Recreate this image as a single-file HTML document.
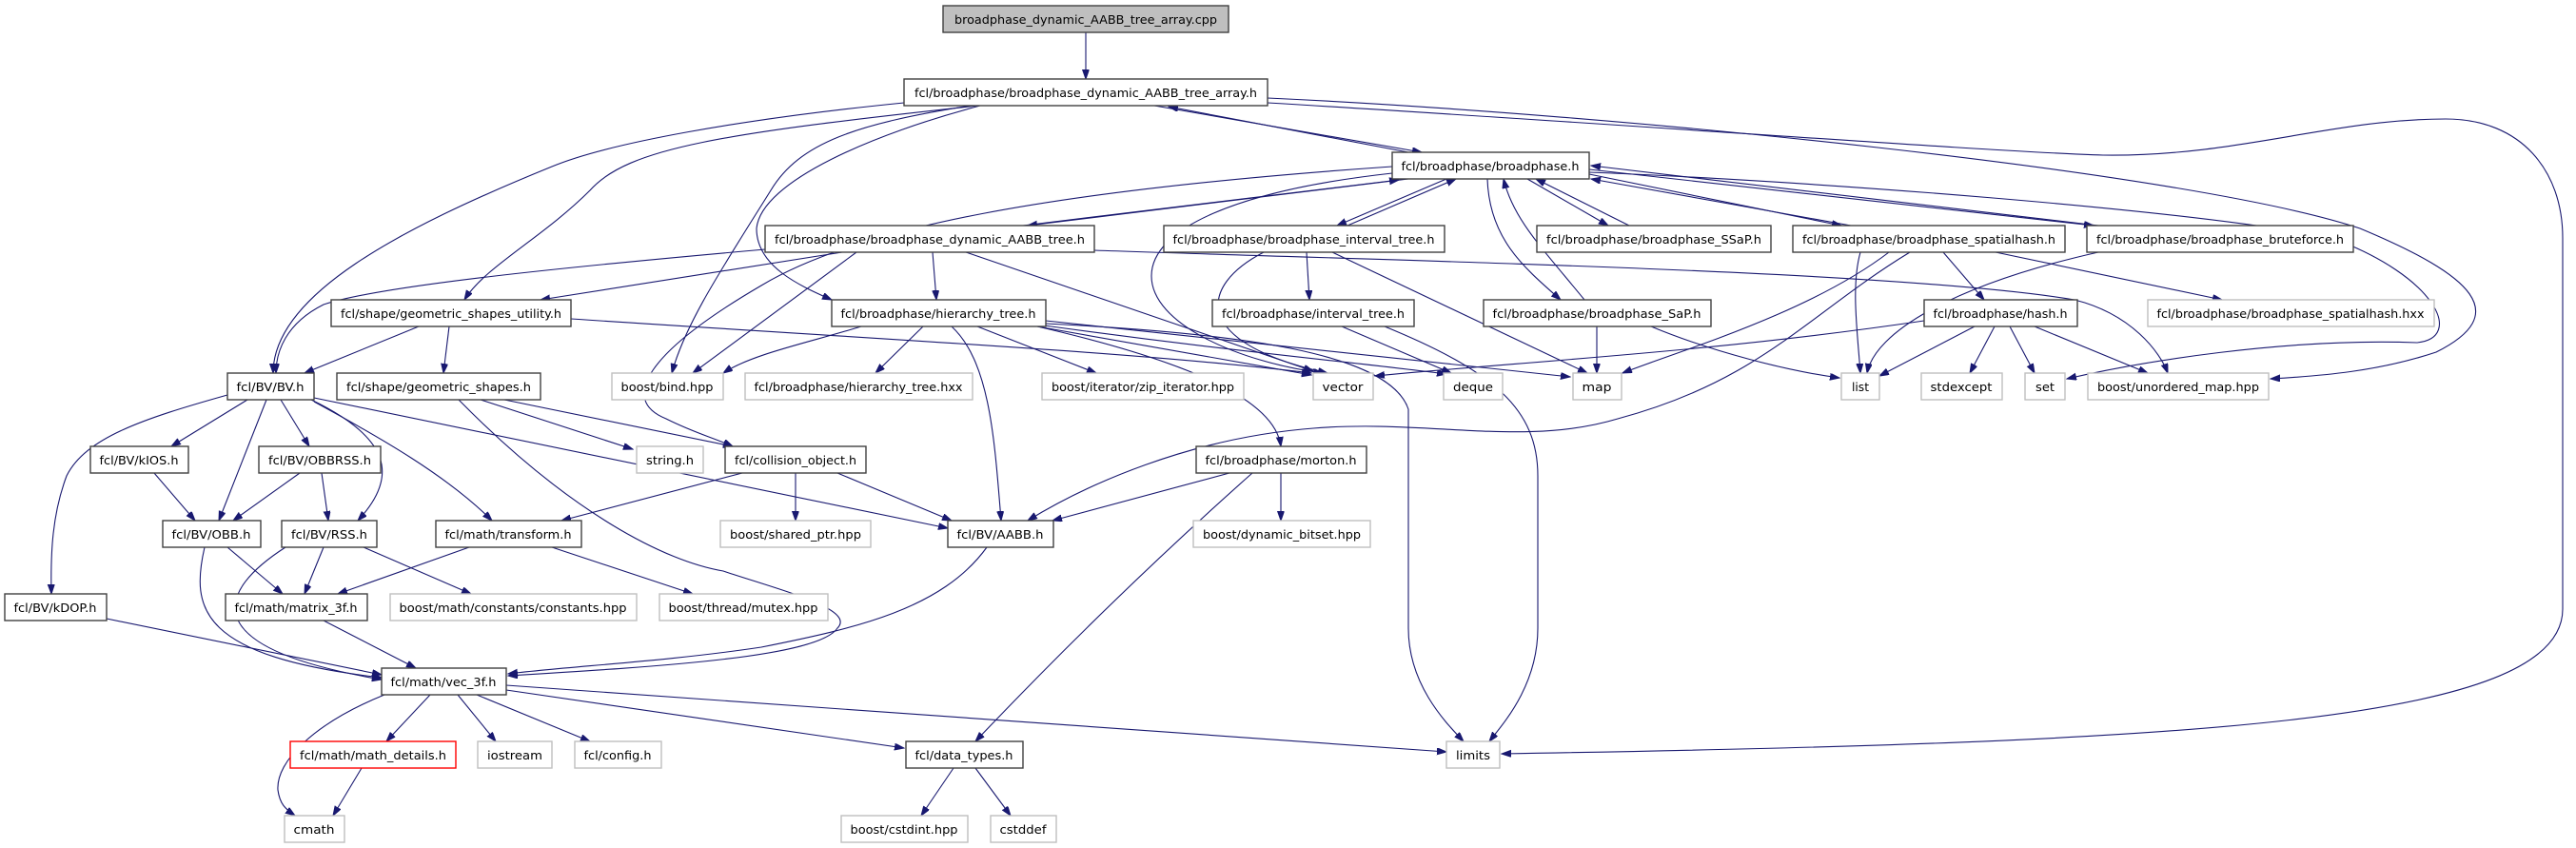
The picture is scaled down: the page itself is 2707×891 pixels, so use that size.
<!DOCTYPE html>
<html><head><meta charset="utf-8"><style>
html,body{margin:0;padding:0;background:#fff;}
svg{display:block;}
text{font-family:"DejaVu Sans","Liberation Sans",sans-serif;font-size:12.5px;fill:#000;}
.n{fill:#fff;stroke:#404040;stroke-width:1.4;}
.g{fill:#fff;stroke:#bfbfbf;stroke-width:1.4;}
.r{fill:#fff;stroke:#ff0000;stroke-width:1.4;}
.e{fill:none;stroke:#191970;stroke-width:1.1;marker-end:url(#a);}
</style></head><body>
<svg width="2707" height="891" viewBox="0 0 2707 891" xmlns="http://www.w3.org/2000/svg">
<defs><marker id="a" markerUnits="userSpaceOnUse" markerWidth="11" markerHeight="8" refX="10" refY="3.5" orient="auto"><path d="M0,0 L10,3.5 L0,7 z" fill="#191970" stroke="#191970"/></marker></defs>
<g>
<path class="e" d="M1141,34 L1141,83"/>
<path class="e" d="M1213,111 L1494,160"/>
<path class="e" d="M1480,160 L1228,112"/>
<path class="e" d="M950,108 C780,125 640,150 580,175 C420,240 287,310 287,392"/>
<path class="e" d="M1028,111 C760,140 660,155 620,200 C570,250 510,280 488,315"/>
<path class="e" d="M1020,111 C900,130 840,150 810,200 C760,280 720,340 706,392"/>
<path class="e" d="M1030,111 C920,140 800,190 795,240 C795,280 840,300 874,315"/>
<path class="e" d="M1332,103 C1700,120 2300,180 2480,240 C2600,290 2640,330 2560,370 C2500,390 2440,395 2386,398"/>
<path class="e" d="M1332,108 C1700,130 2100,160 2210,163 C2350,165 2450,125 2570,125 C2650,125 2693,180 2693,250 L2693,640 C2693,760 2300,780 1578,792"/>
<path class="e" d="M1480,188 L1080,237"/>
<path class="e" d="M1075,237 L1470,189"/>
<path class="e" d="M1520,188 L1405,237"/>
<path class="e" d="M1416,237 L1530,188"/>
<path class="e" d="M1605,188 L1690,237"/>
<path class="e" d="M1712,237 L1614,188"/>
<path class="e" d="M1670,183 L1935,237"/>
<path class="e" d="M1945,237 L1672,188"/>
<path class="e" d="M1670,178 L2200,237"/>
<path class="e" d="M2205,237 L1672,174"/>
<path class="e" d="M1563,188 C1565,250 1600,280 1640,315"/>
<path class="e" d="M1665,315 C1620,260 1590,230 1580,188"/>
<path class="e" d="M1463,175 C1100,200 900,240 800,300 C680,370 650,420 700,440 C730,455 750,460 770,469"/>
<path class="e" d="M1463,182 C1300,200 1210,240 1210,290 C1210,340 1300,380 1390,392"/>
<path class="e" d="M1670,181 C1900,190 2300,220 2450,250 C2560,290 2590,355 2540,360 C2400,355 2250,380 2172,398"/>
<path class="e" d="M804,262 C600,280 400,300 340,320 C300,340 290,370 290,392"/>
<path class="e" d="M885,265 L568,315"/>
<path class="e" d="M900,265 L728,392"/>
<path class="e" d="M980,265 L984,315"/>
<path class="e" d="M1015,265 L1380,390"/>
<path class="e" d="M1150,263 C1500,275 2000,285 2180,315 C2240,330 2270,370 2278,392"/>
<path class="e" d="M1328,265 C1260,300 1250,360 1395,392"/>
<path class="e" d="M1373,265 L1376,315"/>
<path class="e" d="M1400,265 L1668,392"/>
<path class="e" d="M970,343 L920,392"/>
<path class="e" d="M1027,343 L1152,392"/>
<path class="e" d="M1090,343 L1378,394"/>
<path class="e" d="M1090,341 C1300,370 1420,380 1520,393"/>
<path class="e" d="M1099,337 L1650,396"/>
<path class="e" d="M905,343 C850,360 790,372 760,392"/>
<path class="e" d="M1000,343 C1040,380 1045,460 1052,547"/>
<path class="e" d="M1090,343 C1250,380 1340,420 1346,469"/>
<path class="e" d="M1099,340 C1300,350 1460,370 1480,430 L1480,660 C1480,720 1520,760 1538,779"/>
<path class="e" d="M1410,343 L1525,392"/>
<path class="e" d="M1455,343 C1570,390 1616,430 1616,500 L1616,660 C1616,720 1580,760 1565,779"/>
<path class="e" d="M1678,343 L1678,392"/>
<path class="e" d="M1735,343 C1800,370 1880,390 1933,397"/>
<path class="e" d="M1955,265 C1945,300 1952,350 1955,392"/>
<path class="e" d="M2042,265 L2085,315"/>
<path class="e" d="M2097,265 L2335,315"/>
<path class="e" d="M1985,265 C1900,330 1760,370 1705,392"/>
<path class="e" d="M2007,265 C1900,330 1850,400 1700,440 C1600,470 1500,440 1380,450 C1250,460 1140,510 1080,547"/>
<path class="e" d="M2022,337 C1800,370 1600,380 1445,395"/>
<path class="e" d="M2075,343 L1975,395"/>
<path class="e" d="M2096,343 L2070,392"/>
<path class="e" d="M2112,343 L2138,392"/>
<path class="e" d="M2138,343 L2257,392"/>
<path class="e" d="M2205,265 C2050,300 1970,350 1962,392"/>
<path class="e" d="M440,343 L320,392"/>
<path class="e" d="M472,343 L466,392"/>
<path class="e" d="M600,335 C900,355 1200,370 1378,392"/>
<path class="e" d="M505,420 L665,472"/>
<path class="e" d="M530,420 L770,469"/>
<path class="e" d="M482,420 C600,540 700,590 760,600 C820,620 900,640 880,660 C860,690 700,700 534,710"/>
<path class="e" d="M260,420 L180,469"/>
<path class="e" d="M295,420 L325,469"/>
<path class="e" d="M280,420 L230,547"/>
<path class="e" d="M327,420 C410,460 420,500 376,547"/>
<path class="e" d="M330,422 C400,460 470,500 517,547"/>
<path class="e" d="M239,415 C150,440 90,460 70,500 C55,540 53,580 54,624"/>
<path class="e" d="M330,418 L996,555"/>
<path class="e" d="M162,497 L205,547"/>
<path class="e" d="M315,497 L245,547"/>
<path class="e" d="M338,497 L345,547"/>
<path class="e" d="M239,575 L297,624"/>
<path class="e" d="M215,575 C200,640 210,690 401,712"/>
<path class="e" d="M340,575 L320,624"/>
<path class="e" d="M300,575 C230,620 200,680 401,714"/>
<path class="e" d="M382,575 L495,624"/>
<path class="e" d="M493,575 L355,624"/>
<path class="e" d="M580,575 L728,624"/>
<path class="e" d="M112,650 L401,709"/>
<path class="e" d="M340,652 L437,702"/>
<path class="e" d="M780,497 L590,547"/>
<path class="e" d="M836,497 L836,547"/>
<path class="e" d="M880,497 L1000,547"/>
<path class="e" d="M1037,575 C990,640 900,660 800,680 C700,695 600,700 534,708"/>
<path class="e" d="M1292,497 L1106,547"/>
<path class="e" d="M1346,497 L1346,547"/>
<path class="e" d="M1316,497 C1200,600 1100,700 1025,779"/>
<path class="e" d="M452,730 L406,779"/>
<path class="e" d="M481,730 L521,779"/>
<path class="e" d="M501,730 L620,779"/>
<path class="e" d="M532,725 L950,786"/>
<path class="e" d="M532,720 L1520,790"/>
<path class="e" d="M404,730 C330,760 290,800 292,830 C294,845 300,850 310,857"/>
<path class="e" d="M380,807 L350,857"/>
<path class="e" d="M1002,807 L968,857"/>
<path class="e" d="M1025,807 L1062,857"/>
</g>
<g>
<rect x="991" y="6" width="300" height="28" fill="#bfbfbf" stroke="#404040" stroke-width="1.4"/>
<text x="1141" y="25" text-anchor="middle" textLength="276" lengthAdjust="spacingAndGlyphs">broadphase_dynamic_AABB_tree_array.cpp</text>
<rect class="n" x="950" y="83" width="382" height="28"/><text x="1141" y="102" text-anchor="middle" textLength="360" lengthAdjust="spacingAndGlyphs">fcl/broadphase/broadphase_dynamic_AABB_tree_array.h</text>
<rect class="n" x="1463" y="160" width="207" height="28"/><text x="1566" y="179" text-anchor="middle" textLength="187" lengthAdjust="spacingAndGlyphs">fcl/broadphase/broadphase.h</text>
<rect class="n" x="804" y="237" width="346" height="28"/><text x="977" y="256" text-anchor="middle" textLength="326" lengthAdjust="spacingAndGlyphs">fcl/broadphase/broadphase_dynamic_AABB_tree.h</text>
<rect class="n" x="1223" y="237" width="295" height="28"/><text x="1370" y="256" text-anchor="middle" textLength="275" lengthAdjust="spacingAndGlyphs">fcl/broadphase/broadphase_interval_tree.h</text>
<rect class="n" x="1615" y="237" width="246" height="28"/><text x="1738" y="256" text-anchor="middle" textLength="226" lengthAdjust="spacingAndGlyphs">fcl/broadphase/broadphase_SSaP.h</text>
<rect class="n" x="1884" y="237" width="286" height="28"/><text x="2027" y="256" text-anchor="middle" textLength="266" lengthAdjust="spacingAndGlyphs">fcl/broadphase/broadphase_spatialhash.h</text>
<rect class="n" x="2193" y="237" width="280" height="28"/><text x="2333" y="256" text-anchor="middle" textLength="260" lengthAdjust="spacingAndGlyphs">fcl/broadphase/broadphase_bruteforce.h</text>
<rect class="n" x="348" y="315" width="252" height="28"/><text x="474" y="334" text-anchor="middle" textLength="232" lengthAdjust="spacingAndGlyphs">fcl/shape/geometric_shapes_utility.h</text>
<rect class="n" x="874" y="315" width="225" height="28"/><text x="986" y="334" text-anchor="middle" textLength="205" lengthAdjust="spacingAndGlyphs">fcl/broadphase/hierarchy_tree.h</text>
<rect class="n" x="1274" y="315" width="212" height="28"/><text x="1380" y="334" text-anchor="middle" textLength="192" lengthAdjust="spacingAndGlyphs">fcl/broadphase/interval_tree.h</text>
<rect class="n" x="1559" y="315" width="239" height="28"/><text x="1678" y="334" text-anchor="middle" textLength="219" lengthAdjust="spacingAndGlyphs">fcl/broadphase/broadphase_SaP.h</text>
<rect class="n" x="2022" y="315" width="161" height="28"/><text x="2102" y="334" text-anchor="middle" textLength="141" lengthAdjust="spacingAndGlyphs">fcl/broadphase/hash.h</text>
<rect class="g" x="2257" y="315" width="301" height="28"/><text x="2407" y="334" text-anchor="middle" textLength="281" lengthAdjust="spacingAndGlyphs">fcl/broadphase/broadphase_spatialhash.hxx</text>
<rect class="n" x="239" y="392" width="91" height="28"/><text x="284" y="411" text-anchor="middle" textLength="71" lengthAdjust="spacingAndGlyphs">fcl/BV/BV.h</text>
<rect class="n" x="354" y="392" width="214" height="28"/><text x="461" y="411" text-anchor="middle" textLength="194" lengthAdjust="spacingAndGlyphs">fcl/shape/geometric_shapes.h</text>
<rect class="g" x="643" y="392" width="117" height="28"/><text x="701" y="411" text-anchor="middle" textLength="97" lengthAdjust="spacingAndGlyphs">boost/bind.hpp</text>
<rect class="g" x="783" y="392" width="239" height="28"/><text x="902" y="411" text-anchor="middle" textLength="219" lengthAdjust="spacingAndGlyphs">fcl/broadphase/hierarchy_tree.hxx</text>
<rect class="g" x="1095" y="392" width="212" height="28"/><text x="1201" y="411" text-anchor="middle" textLength="192" lengthAdjust="spacingAndGlyphs">boost/iterator/zip_iterator.hpp</text>
<rect class="g" x="1380" y="392" width="63" height="28"/><text x="1411" y="411" text-anchor="middle" textLength="43" lengthAdjust="spacingAndGlyphs">vector</text>
<rect class="g" x="1517" y="392" width="62" height="28"/><text x="1548" y="411" text-anchor="middle" textLength="42" lengthAdjust="spacingAndGlyphs">deque</text>
<rect class="g" x="1653" y="392" width="51" height="28"/><text x="1678" y="411" text-anchor="middle" textLength="31" lengthAdjust="spacingAndGlyphs">map</text>
<rect class="g" x="1935" y="392" width="40" height="28"/><text x="1955" y="411" text-anchor="middle" textLength="18" lengthAdjust="spacingAndGlyphs">list</text>
<rect class="g" x="2019" y="392" width="85" height="28"/><text x="2061" y="411" text-anchor="middle" textLength="65" lengthAdjust="spacingAndGlyphs">stdexcept</text>
<rect class="g" x="2128" y="392" width="42" height="28"/><text x="2149" y="411" text-anchor="middle" textLength="20" lengthAdjust="spacingAndGlyphs">set</text>
<rect class="g" x="2194" y="392" width="190" height="28"/><text x="2289" y="411" text-anchor="middle" textLength="170" lengthAdjust="spacingAndGlyphs">boost/unordered_map.hpp</text>
<rect class="n" x="95" y="469" width="103" height="28"/><text x="146" y="488" text-anchor="middle" textLength="83" lengthAdjust="spacingAndGlyphs">fcl/BV/kIOS.h</text>
<rect class="n" x="272" y="469" width="128" height="28"/><text x="336" y="488" text-anchor="middle" textLength="108" lengthAdjust="spacingAndGlyphs">fcl/BV/OBBRSS.h</text>
<rect class="g" x="669" y="469" width="70" height="28"/><text x="704" y="488" text-anchor="middle" textLength="50" lengthAdjust="spacingAndGlyphs">string.h</text>
<rect class="n" x="762" y="469" width="148" height="28"/><text x="836" y="488" text-anchor="middle" textLength="128" lengthAdjust="spacingAndGlyphs">fcl/collision_object.h</text>
<rect class="n" x="1257" y="469" width="179" height="28"/><text x="1346" y="488" text-anchor="middle" textLength="159" lengthAdjust="spacingAndGlyphs">fcl/broadphase/morton.h</text>
<rect class="n" x="171" y="547" width="103" height="28"/><text x="222" y="566" text-anchor="middle" textLength="83" lengthAdjust="spacingAndGlyphs">fcl/BV/OBB.h</text>
<rect class="n" x="296" y="547" width="100" height="28"/><text x="346" y="566" text-anchor="middle" textLength="80" lengthAdjust="spacingAndGlyphs">fcl/BV/RSS.h</text>
<rect class="n" x="458" y="547" width="153" height="28"/><text x="534" y="566" text-anchor="middle" textLength="133" lengthAdjust="spacingAndGlyphs">fcl/math/transform.h</text>
<rect class="g" x="757" y="547" width="158" height="28"/><text x="836" y="566" text-anchor="middle" textLength="138" lengthAdjust="spacingAndGlyphs">boost/shared_ptr.hpp</text>
<rect class="n" x="996" y="547" width="111" height="28"/><text x="1051" y="566" text-anchor="middle" textLength="91" lengthAdjust="spacingAndGlyphs">fcl/BV/AABB.h</text>
<rect class="g" x="1254" y="547" width="186" height="28"/><text x="1347" y="566" text-anchor="middle" textLength="166" lengthAdjust="spacingAndGlyphs">boost/dynamic_bitset.hpp</text>
<rect class="n" x="5" y="624" width="107" height="28"/><text x="58" y="643" text-anchor="middle" textLength="87" lengthAdjust="spacingAndGlyphs">fcl/BV/kDOP.h</text>
<rect class="n" x="237" y="624" width="149" height="28"/><text x="311" y="643" text-anchor="middle" textLength="129" lengthAdjust="spacingAndGlyphs">fcl/math/matrix_3f.h</text>
<rect class="g" x="410" y="624" width="259" height="28"/><text x="539" y="643" text-anchor="middle" textLength="239" lengthAdjust="spacingAndGlyphs">boost/math/constants/constants.hpp</text>
<rect class="g" x="693" y="624" width="177" height="28"/><text x="781" y="643" text-anchor="middle" textLength="157" lengthAdjust="spacingAndGlyphs">boost/thread/mutex.hpp</text>
<rect class="n" x="401" y="702" width="131" height="28"/><text x="466" y="721" text-anchor="middle" textLength="111" lengthAdjust="spacingAndGlyphs">fcl/math/vec_3f.h</text>
<rect class="r" x="305" y="779" width="174" height="28"/><text x="392" y="798" text-anchor="middle" textLength="154" lengthAdjust="spacingAndGlyphs">fcl/math/math_details.h</text>
<rect class="g" x="502" y="779" width="78" height="28"/><text x="541" y="798" text-anchor="middle" textLength="58" lengthAdjust="spacingAndGlyphs">iostream</text>
<rect class="g" x="604" y="779" width="91" height="28"/><text x="649" y="798" text-anchor="middle" textLength="71" lengthAdjust="spacingAndGlyphs">fcl/config.h</text>
<rect class="n" x="952" y="779" width="123" height="28"/><text x="1013" y="798" text-anchor="middle" textLength="103" lengthAdjust="spacingAndGlyphs">fcl/data_types.h</text>
<rect class="g" x="1520" y="779" width="56" height="28"/><text x="1548" y="798" text-anchor="middle" textLength="36" lengthAdjust="spacingAndGlyphs">limits</text>
<rect class="g" x="299" y="857" width="63" height="28"/><text x="330" y="876" text-anchor="middle" textLength="43" lengthAdjust="spacingAndGlyphs">cmath</text>
<rect class="g" x="884" y="857" width="133" height="28"/><text x="950" y="876" text-anchor="middle" textLength="113" lengthAdjust="spacingAndGlyphs">boost/cstdint.hpp</text>
<rect class="g" x="1041" y="857" width="69" height="28"/><text x="1075" y="876" text-anchor="middle" textLength="49" lengthAdjust="spacingAndGlyphs">cstddef</text>
</g>
</svg>
</body></html>
